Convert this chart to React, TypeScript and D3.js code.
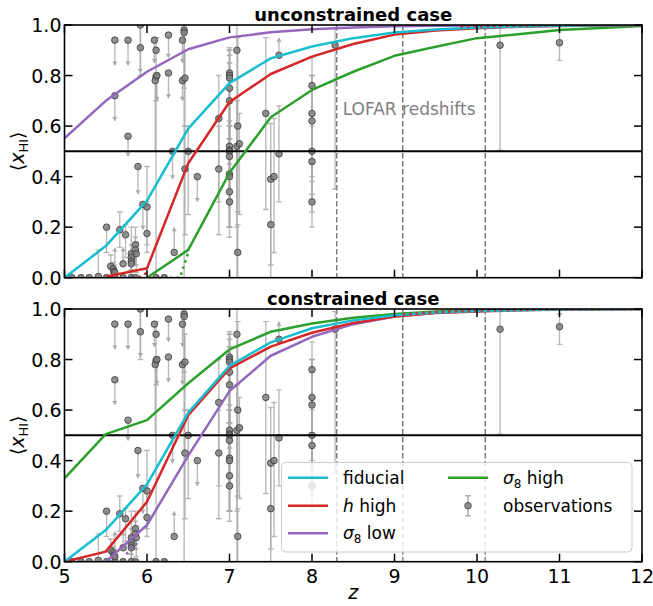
import React from "react";
import * as d3 from "d3";

// Redshift grid for the model curves
const zGrid = [5, 5.5, 6, 6.5, 7, 7.5, 8, 8.5, 9, 9.5, 10, 10.5, 11, 11.5, 12];

// Unconstrained case: mean neutral fraction per model (null = not drawn)
const fiducialTop = [0, 0.125, 0.305, 0.59, 0.77, 0.868, 0.915, 0.948, 0.97, 0.982, 0.99, 0.994, 0.997, 0.999, 1.0];
const hHighTop = [null, 0.004, 0.037, 0.453, 0.695, 0.806, 0.875, 0.925, 0.962, 0.978, 0.987, 0.993, 0.996, 0.998, 1.0];
const s8LowTop = [0.552, 0.7, 0.815, 0.904, 0.951, 0.971, 0.983, 0.99, 0.995, 0.997, 0.998, 0.999, 1.0, 1.0, 1.0];
const s8HighTop = [null, null, 0, 0.11, 0.415, 0.635, 0.743, 0.815, 0.878, 0.914, 0.948, 0.963, 0.98, 0.988, 0.996];

// Constrained case
const fiducialBot = [0, 0.125, 0.306, 0.59, 0.775, 0.868, 0.924, 0.955, 0.975, 0.986, 0.992, 0.995, 0.998, 0.999, 1.0];
const hHighBot = [0, 0.04, 0.237, 0.58, 0.765, 0.851, 0.906, 0.945, 0.97, 0.984, 0.99, 0.995, 0.998, 0.999, 1.0];
const s8LowBot = [null, 0.0, 0.145, 0.42, 0.675, 0.815, 0.89, 0.94, 0.97, 0.985, 0.992, 0.996, 0.998, 0.999, 1.0];
const s8HighBot = [0.33, 0.505, 0.56, 0.706, 0.84, 0.91, 0.943, 0.965, 0.98, 0.99, 0.995, 0.997, 0.999, 1.0, 1.0];

// Dotted tails
const dotGreenZ = [6.2, 6.4, 6.5];
const dotGreenV = [0, 0, 0.1];
const dotRedZ = [5.9, 6.0];
const dotRedV = [0, 0.02];
const dotPurpleZ = [5.75, 5.9];
const dotPurpleV = [0.03, 0.08];
const dotRedHighZTop = [9.8, 10.5, 11, 12];
const dotRedHighVTop = [0.994, 0.998, 1.0, 1.0];
const dotRedHighZBot = [9.1, 9.5, 10, 11, 12];
const dotRedHighVBot = [0.978, 0.988, 0.994, 0.999, 1.0];

// LOFAR redshifts
const lofarZ = [8.3, 9.1, 10.1];

// Observational constraints: redshift, value, lower end, upper end, kind
// kind: e = error bar, u = upper limit (arrow down to lo), l = lower limit (arrow up to hi)
const obsZ = [
  5.09, 5.2, 5.3, 5.41, 5.51, 5.61, 5.71, 5.81, 5.86, 6.11, 6.21,
  5.51, 5.56, 5.59, 5.6, 5.61, 5.67, 5.71, 5.74, 5.81, 5.81, 5.81, 5.81, 5.86, 5.86, 5.87, 5.89, 5.95, 6.0, 6.0,
  5.61, 5.77, 5.61, 5.77, 5.92, 5.92, 6.09, 6.11, 6.11, 6.1, 6.12, 6.26, 6.26, 6.43, 6.45, 6.45, 6.43, 6.46,
  6.31, 6.5, 6.46, 6.61, 6.33, 6.87, 6.87,
  7.0, 7.0, 7.0, 7.0, 7.0, 7.0, 7.0, 7.0, 7.0, 7.0, 7.0, 7.0, 7.0,
  7.09, 7.1, 7.09, 7.12, 7.1, 7.44, 7.5, 7.54, 7.5, 7.6, 7.6,
  8.0, 8.0, 8.0, 8.0, 8.0, 8.0, 8.28, 10.28, 11.0,
];
const obsV = [
  0, 0, 0, 0.005, 0, 0, 0, 0, 0, 0, 0,
  0.2, 0.045, 0.035, 0.025, 0.02, 0.19, 0.055, 0.17, 0.095, 0.08, 0.065, 0.055, 0.13, 0.11, 0.095, 0.44, 0.29, 0.28, 0.175,
  0.94, 0.94, 0.72, 0.56, 1.0, 0.91, 0.94, 0.9, 0.795, 0.78, 0.8, 0.96, 0.81, 0.94, 0.98, 0.97, 0.78, 0.79,
  0.5, 0.5, 0.43, 0.4, 0.1, 0.63, 0.43,
  0.81, 0.8, 0.79, 0.75, 0.7, 0.52, 0.505, 0.5, 0.48, 0.41, 0.4, 0.34, 0.3,
  0.9, 0.6, 0.52, 0.53, 0.1, 0.65, 0.39, 0.4, 0.21, 0.49, 0.88,
  0.76, 0.65, 0.62, 0.5, 0.46, 0.3, 0.92, 0.92, 0.93,
];
const obsLo = [
  0, 0, 0, 0, 0, 0, 0, 0, 0, 0, 0,
  0.1, 0, 0, 0, 0.02, 0.12, 0.055, 0.08, 0.03, 0.03, 0, 0, 0.05, 0.05, 0.02, 0.33, 0.19, 0.13, 0.1,
  0.84, 0.84, 0.62, 0.48, 0.81, 0.8, 0.85, 0.7, 0.0, 0.5, 0.7, 0.87, 0.71, 0.85, 0.0, 0.75, 0.7, 0.6,
  0.39, 0.25, 0.17, 0.3, 0.1, 0.17, 0.3,
  0.6, 0.5, 0.55, 0.55, 0.45, 0.3, 0.16, 0.3, 0.3, 0.2, 0.2, 0.2, 0.2,
  0.0, 0.26, 0.2, 0.25, 0.0, 0.27, 0.0, 0.1, 0.05, 0.3, 0.88,
  0.5, 0.4, 0.38, 0.33, 0.2, 0.26, 0.35, 0.505, 0.86,
];
const obsHi = [
  0.01, 0.01, 0.01, 0.11, 0.01, 0.01, 0.01, 0.01, 0.01, 0.01, 0.01,
  0.2, 0.09, 0.06, 0.05, 0.12, 0.26, 0.12, 0.21, 0.2, 0.13, 0.1, 0.1, 0.2, 0.16, 0.14, 0.44, 0.29, 0.44, 0.3,
  0.94, 0.94, 0.72, 0.56, 1.0, 1.0, 0.94, 0.95, 0.81, 0.8, 0.8, 0.96, 0.81, 0.94, 1.0, 0.99, 0.78, 0.9,
  0.5, 0.6, 0.6, 0.4, 0.2, 0.8, 0.6,
  0.91, 0.9, 0.88, 0.85, 0.85, 0.7, 0.9, 0.6, 0.62, 0.6, 0.55, 0.5, 0.4,
  1.0, 0.95, 0.7, 0.65, 0.21, 0.95, 0.61, 0.63, 0.5, 0.68, 0.95,
  0.87, 0.8, 0.8, 0.65, 0.6, 0.45, 0.99, 0.99, 0.98,
];
const obsKind = [
  "e", "e", "e", "e", "e", "e", "e", "e", "e", "e", "e",
  "e", "e", "e", "e", "l", "e", "l", "e", "e", "e", "e", "e", "e", "e", "e", "u", "u", "e", "e",
  "u", "u", "u", "u", "u", "e", "u", "e", "e", "e", "u", "u", "u", "u", "e", "e", "u", "e",
  "u", "e", "e", "u", "l", "e", "e",
  "e", "e", "e", "e", "e", "e", "e", "e", "e", "e", "e", "e", "e",
  "e", "e", "e", "e", "e", "e", "e", "e", "e", "e", "l",
  "e", "e", "e", "e", "e", "e", "e", "e", "e",
];

const C_FID = "#17becf";
const C_H = "#d62728";
const C_S8LOW = "#9467bd";
const C_S8HIGH = "#2ca02c";
const ERR = "#a9a9a9";

const FONT = "DejaVu Sans, sans-serif";
const W = 653;
const H = 606;
const X0 = 64.5;
const X1 = 642;
const zTicks = [5, 6, 7, 8, 9, 10, 11, 12];
const yTicks = [0, 0.2, 0.4, 0.6, 0.8, 1.0];

const x = d3.scaleLinear().domain([5, 12]).range([X0, X1]);

type PanelProps = {
  id: string;
  top: number;
  bottom: number;
  title: string;
  series: { v: (number | null)[]; color: string }[];
  dotted: { z: number[]; v: number[]; color: string }[];
  showLofarText: boolean;
  showXLabels: boolean;
};

function Observations({ y }: { y: d3.ScaleLinear<number, number> }) {
  return (
    <g>
      {obsZ.map((z, i) => {
        const cx = x(z);
        const kind = obsKind[i];
        const y0 = y(obsLo[i]);
        const y1 = y(obsHi[i]);
        const parts: React.ReactNode[] = [];
        if (kind === "e") {
          parts.push(<line key="l" x1={cx} x2={cx} y1={y0} y2={y1} />);
          parts.push(<line key="c0" x1={cx - 2.8} x2={cx + 2.8} y1={y0} y2={y0} />);
          parts.push(<line key="c1" x1={cx - 2.8} x2={cx + 2.8} y1={y1} y2={y1} />);
        } else if (kind === "u") {
          parts.push(<line key="l" x1={cx} x2={cx} y1={y1} y2={y0} />);
          parts.push(
            <path key="a" d={`M${cx - 2.6},${y0 - 4} L${cx + 2.6},${y0 - 4} L${cx},${y0} Z`} fill={ERR} stroke="none" />
          );
        } else {
          parts.push(<line key="l" x1={cx} x2={cx} y1={y0} y2={y1} />);
          parts.push(
            <path key="a" d={`M${cx - 2.6},${y1 + 4} L${cx + 2.6},${y1 + 4} L${cx},${y1} Z`} fill={ERR} stroke="none" />
          );
        }
        return (
          <g key={i} stroke={ERR} strokeWidth={1.4} strokeOpacity={0.8}>
            {parts}
          </g>
        );
      })}
      {obsZ.map((z, i) => (
        <circle
          key={"p" + i}
          cx={x(z)}
          cy={y(obsV[i])}
          r={3.3}
          fill="#7f7f7f"
          fillOpacity={0.85}
          stroke="#3a3a3a"
          strokeWidth={0.8}
        />
      ))}
    </g>
  );
}

function Panel(p: PanelProps) {
  const y = d3.scaleLinear().domain([0, 1]).range([p.bottom, p.top]);
  const line = d3
    .line<[number, number | null]>()
    .defined((d) => d[1] !== null)
    .x((d) => x(d[0]))
    .y((d) => y(d[1] as number));
  const ptsLine = d3
    .line<[number, number]>()
    .x((d) => x(d[0]))
    .y((d) => y(d[1]));
  const tl = 8;
  return (
    <g>
      <defs>
        <clipPath id={p.id}>
          <rect x={X0} y={p.top} width={X1 - X0} height={p.bottom - p.top} />
        </clipPath>
      </defs>
      <g clipPath={`url(#${p.id})`}>
        {lofarZ.map((z) => (
          <line
            key={z}
            x1={x(z)}
            x2={x(z)}
            y1={p.top}
            y2={p.bottom}
            stroke="#808080"
            strokeWidth={1.5}
            strokeDasharray="5.5,2.5"
          />
        ))}
        <Observations y={y} />
        <line x1={X0} x2={X1} y1={y(0.5)} y2={y(0.5)} stroke="#000" strokeWidth={2} />
        {p.series.map((s, i) => (
          <path
            key={i}
            d={line(zGrid.map((z, k) => [z, s.v[k]] as [number, number | null])) || ""}
            fill="none"
            stroke={s.color}
            strokeWidth={2.5}
            strokeLinejoin="round"
          />
        ))}
        {p.dotted.map((s, i) => (
          <path
            key={"d" + i}
            d={ptsLine(s.z.map((z, k) => [z, s.v[k]] as [number, number])) || ""}
            fill="none"
            stroke={s.color}
            strokeWidth={2.5}
            strokeDasharray="2.5,4"
          />
        ))}
      </g>
      {p.showLofarText && (
        <text x={x(8.3) + 6} y={y(0.645)} fontFamily={FONT} fontSize={17} fill="#808080">
          LOFAR redshifts
        </text>
      )}
      <rect x={X0} y={p.top} width={X1 - X0} height={p.bottom - p.top} fill="none" stroke="#000" strokeWidth={1.6} />
      <g stroke="#000" strokeWidth={1.5}>
        {zTicks.map((z) => (
          <g key={z}>
            <line x1={x(z)} x2={x(z)} y1={p.bottom} y2={p.bottom - tl} />
            <line x1={x(z)} x2={x(z)} y1={p.top} y2={p.top + tl} />
          </g>
        ))}
        {yTicks.map((v) => (
          <g key={v}>
            <line x1={X0} x2={X0 + tl} y1={y(v)} y2={y(v)} />
            <line x1={X1} x2={X1 - tl} y1={y(v)} y2={y(v)} />
          </g>
        ))}
      </g>
      {yTicks.map((v) => (
        <text
          key={v}
          x={X0 - 3}
          y={y(v) + 7}
          textAnchor="end"
          fontFamily={FONT}
          fontSize={19}
          fill="#000"
        >
          {v.toFixed(1)}
        </text>
      ))}
      {p.showXLabels &&
        zTicks.map((z) => (
          <text key={z} x={x(z)} y={p.bottom + 21} textAnchor="middle" fontFamily={FONT} fontSize={19} fill="#000">
            {z}
          </text>
        ))}
      <text
        x={(X0 + X1) / 2}
        y={p.top - 4}
        textAnchor="middle"
        fontFamily={FONT}
        fontSize={18}
        fontWeight="bold"
        fill="#000"
      >
        {p.title}
      </text>
      <text
        transform={`translate(24,${y(0.5)}) rotate(-90)`}
        textAnchor="middle"
        fontFamily={FONT}
        fontSize={19}
        fill="#000"
      >
        ⟨<tspan fontStyle="italic">x</tspan>
        <tspan fontSize={13} dy={4}>HI</tspan>
        <tspan dy={-4}>⟩</tspan>
      </text>
    </g>
  );
}

function Legend() {
  const bx = 281.5;
  const by = 462.5;
  const rows = [477.7, 505.7, 533.3];
  const fs = 17;
  const c1 = 288;
  const c2 = 448;
  const lineItems = [
    { x: c1, y: rows[0], color: C_FID },
    { x: c1, y: rows[1], color: C_H },
    { x: c1, y: rows[2], color: C_S8LOW },
    { x: c2, y: rows[0], color: C_S8HIGH },
  ];
  const ox = 468;
  const oy = rows[1];
  return (
    <g>
      <rect x={bx} y={by} width={632 - bx} height={552 - by} rx={4} fill="#fff" fillOpacity={0.8} stroke="#cccccc" strokeWidth={1} />
      {lineItems.map((it, i) => (
        <line key={i} x1={it.x} x2={it.x + 40} y1={it.y} y2={it.y} stroke={it.color} strokeWidth={2.5} />
      ))}
      <g stroke={ERR} strokeWidth={1.4}>
        <line x1={ox} x2={ox} y1={oy - 10} y2={oy + 10} />
        <line x1={ox - 2.8} x2={ox + 2.8} y1={oy - 10} y2={oy - 10} />
        <line x1={ox - 2.8} x2={ox + 2.8} y1={oy + 10} y2={oy + 10} />
      </g>
      <circle cx={ox} cy={oy} r={3.3} fill="#7f7f7f" fillOpacity={0.85} stroke="#3a3a3a" strokeWidth={0.8} />
      <g fontFamily={FONT} fontSize={fs} fill="#000">
        <text x={343} y={rows[0] + 6}>fiducial</text>
        <text x={343} y={rows[1] + 6}>
          <tspan fontStyle="italic">h</tspan> high
        </text>
        <text x={343} y={rows[2] + 6}>
          <tspan fontStyle="italic">σ</tspan>
          <tspan fontSize={12} dy={4}>8</tspan>
          <tspan dy={-4}> low</tspan>
        </text>
        <text x={503} y={rows[0] + 6}>
          <tspan fontStyle="italic">σ</tspan>
          <tspan fontSize={12} dy={4}>8</tspan>
          <tspan dy={-4}> high</tspan>
        </text>
        <text x={503} y={rows[1] + 6}>observations</text>
      </g>
    </g>
  );
}

export default function App() {
  return (
    <svg
      width={W}
      height={H}
      viewBox={`0 0 ${W} ${H}`}
      style={{ position: "absolute", left: 0, top: 0, background: "#fff" }}
    >
      <rect width={W} height={H} fill="#fff" />
      <Panel
        id="clipTop"
        top={25}
        bottom={277.7}
        title="unconstrained case"
        series={[
          { v: s8HighTop, color: C_S8HIGH },
          { v: s8LowTop, color: C_S8LOW },
          { v: hHighTop, color: C_H },
          { v: fiducialTop, color: C_FID },
        ]}
        dotted={[
          { z: dotGreenZ, v: dotGreenV, color: C_S8HIGH },
          { z: dotRedZ, v: dotRedV, color: C_H },
          { z: dotRedHighZTop, v: dotRedHighVTop, color: C_H },
        ]}
        showLofarText={true}
        showXLabels={false}
      />
      <Panel
        id="clipBot"
        top={309}
        bottom={561.7}
        title="constrained case"
        series={[
          { v: s8HighBot, color: C_S8HIGH },
          { v: s8LowBot, color: C_S8LOW },
          { v: hHighBot, color: C_H },
          { v: fiducialBot, color: C_FID },
        ]}
        dotted={[
          { z: dotPurpleZ, v: dotPurpleV, color: C_S8LOW },
          { z: dotRedHighZBot, v: dotRedHighVBot, color: C_H },
        ]}
        showLofarText={false}
        showXLabels={true}
      />
      <Legend />
      <text x={(X0 + X1) / 2} y={599} textAnchor="middle" fontFamily={FONT} fontSize={19} fontStyle="italic" fill="#000">
        z
      </text>
    </svg>
  );
}
